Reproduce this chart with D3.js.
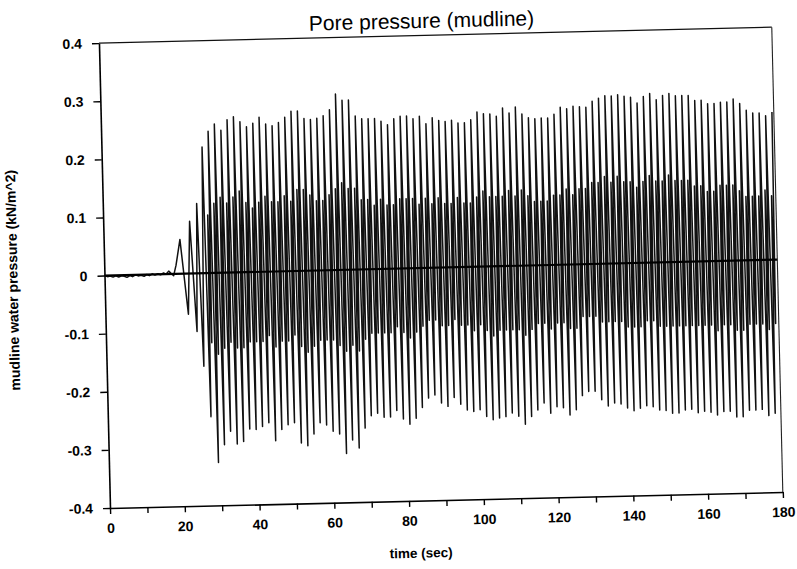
<!DOCTYPE html>
<html><head><meta charset="utf-8">
<script src="https://cdn.jsdelivr.net/npm/d3@7"></script>
<style>body{margin:0;background:#fff}svg{display:block}</style>
</head><body>
<svg id="chart" width="797" height="569"></svg>
<script>
// ---------- data ----------
const titleText = "Pore pressure (mudline)";
const xTitle = "time (sec)";
const yTitle = "mudline water pressure (kN/m^2)";
const xTickValues = [0,10,20,30,40,50,60,70,80,90,100,110,120,130,140,150,160,170,180];
const xTickLabels = ["0","","20","","40","","60","","80","","100","","120","","140","","160","","180"];
const yTickValues = [0.4,0.3,0.2,0.1,0,-0.1,-0.2,-0.3,-0.4];
const yTickLabels = ["0.4","0.3","0.2","0.1","0","-0.1","-0.2","-0.3","-0.4"];

// quiet record before the waves arrive, then the first small cycles: [time, pressure]
const preStart = [
  [0,0.000],[0.8,-0.002],[1.5,-0.001],[2.3,-0.003],[3.0,-0.001],[3.8,-0.003],[4.6,-0.001],
  [5.3,-0.002],[6.0,-0.004],[6.8,-0.001],[7.5,-0.003],[8.3,0.000],[9.0,-0.002],[9.8,-0.001],
  [10.6,-0.003],[11.3,0.000],[12.0,-0.002],[12.8,0.001],[13.5,-0.001],[14.3,0.001],[15.0,-0.001],
  [15.8,0.002],[16.5,0.000],[17.2,0.005],[17.8,0.001],[18.5,-0.003],[19.2,0.015],[20.4,0.059],
  [22.2,-0.070],[23.1,0.090],[24.4,-0.100],[25.1,0.120],[26.0,-0.160]
];

// regular wave cycles: first crest time and crest spacing (s)
const cycleStart = 26.9;
const cyclePeriod = 1.7146;
// main crest of each cycle (kN/m^2)
const peaks = [
  0.217,0.244,0.256,0.245,0.263,0.268,0.259,0.250,0.256,0.266,0.254,0.251,0.256,0.265,
  0.275,0.275,0.262,0.260,0.262,0.266,0.276,0.303,0.292,0.292,0.264,0.259,0.259,0.259,
  0.254,0.248,0.258,0.262,0.262,0.257,0.261,0.248,0.258,0.253,0.251,0.253,0.248,0.248,
  0.253,0.266,0.263,0.262,0.258,0.272,0.263,0.273,0.261,0.254,0.252,0.253,0.253,0.259,
  0.271,0.268,0.272,
  0.271,0.270,0.280,0.285,0.289,0.288,0.290,0.287,0.285,0.275,0.286,0.291,0.280,0.287,
  0.290,0.286,0.286,0.286,0.277,0.277,0.271,0.271,0.273,0.273,0.278,0.270,0.258,0.253,
  0.253,0.248,0.254
];
// main trough following each crest (kN/m^2)
const troughs = [
  -0.247,-0.326,-0.296,-0.273,-0.295,-0.291,-0.270,-0.271,-0.266,-0.260,-0.291,-0.272,
  -0.264,-0.261,-0.296,-0.301,-0.281,-0.262,-0.266,-0.277,-0.282,-0.316,-0.293,-0.307,
  -0.273,-0.252,-0.248,
  -0.255,-0.255,-0.244,-0.259,-0.268,-0.258,-0.240,-0.224,-0.219,-0.233,-0.239,-0.224,
  -0.236,-0.246,-0.249,-0.246,-0.258,-0.264,-0.261,-0.259,-0.253,-0.259,-0.273,-0.260,
  -0.249,-0.237,-0.255,-0.244,-0.246,-0.259,-0.250,
  -0.226,-0.219,-0.219,-0.234,-0.245,-0.240,-0.242,-0.249,-0.254,-0.250,-0.246,-0.248,
  -0.254,-0.255,-0.260,-0.260,-0.255,-0.254,-0.260,-0.258,-0.260,-0.265,-0.259,-0.259,
  -0.269,-0.269,-0.258,-0.258,-0.257,-0.268,-0.264
];
// small secondary crest inside each cycle (grey hatching, estimated)
const subPeaks = [
  0.10,0.12,0.13,0.12,0.13,0.14,0.12,0.11,0.12,0.13,0.12,0.12,0.13,0.12,
  0.14,0.14,0.13,0.12,0.12,0.13,0.14,0.15,0.14,0.14,0.12,0.12,0.11,
  0.12,0.11,0.11,0.12,0.12,0.12,0.11,0.12,0.11,0.12,0.11,0.11,0.12,0.11,
  0.11,0.12,0.13,0.12,0.12,0.12,0.13,0.12,0.13,0.12,0.11,0.11,0.11,0.12,
  0.12,0.13,0.12,
  0.13,0.13,0.14,0.14,0.15,0.14,0.15,0.14,0.14,0.13,0.14,0.15,0.14,0.14,
  0.15,0.14,0.14,0.14,0.13,0.13,0.12,0.12,0.13,0.13,0.13,0.12,0.11,0.11,
  0.11,0.12,0.11
];
// small secondary trough inside each cycle (estimated)
const subTroughs = [
  -0.12,-0.14,-0.13,-0.12,-0.13,-0.13,-0.12,-0.12,-0.12,-0.11,-0.13,-0.12,-0.12,-0.11,
  -0.13,-0.14,-0.13,-0.12,-0.12,-0.12,-0.13,-0.14,-0.13,-0.14,-0.12,-0.11,-0.11,
  -0.11,-0.11,-0.10,-0.11,-0.12,-0.11,-0.10,-0.09,-0.09,-0.10,-0.10,-0.09,-0.10,-0.10,
  -0.11,-0.10,-0.11,-0.12,-0.11,-0.11,-0.11,-0.11,-0.12,-0.11,-0.10,-0.10,-0.11,-0.10,
  -0.10,-0.11,-0.11,
  -0.09,-0.09,-0.09,-0.10,-0.10,-0.10,-0.10,-0.11,-0.11,-0.11,-0.10,-0.10,-0.11,-0.11,
  -0.11,-0.11,-0.11,-0.11,-0.11,-0.11,-0.11,-0.12,-0.11,-0.11,-0.12,-0.12,-0.11,-0.11,
  -0.11,-0.12,-0.11
];
const zeroLine = [[0,0],[180,0]];

// ---------- build ----------
const series = preStart.slice();
peaks.forEach((p, i) => {
  const t = cycleStart + i * cyclePeriod;
  series.push([t, p]);
  if (i < troughs.length) {
    series.push([t + 0.40 * cyclePeriod, troughs[i]]);
    series.push([t + 0.63 * cyclePeriod, subPeaks[i]]);
    series.push([t + 0.80 * cyclePeriod, subTroughs[i]]);
  }
});

const FONT = "'Liberation Sans', Arial, Helvetica, sans-serif";
const M = { l: 110, r: 783, t: 43, b: 508 };
const svg = d3.select("#chart");
const g = svg.append("g").attr("transform", `rotate(-1.36, ${M.l}, ${M.b})`);

const x = d3.scaleLinear().domain([0, 180]).range([M.l, M.r]);
const y = d3.scaleLinear().domain([-0.4, 0.4]).range([M.b, M.t]);

const line = d3.line().x(d => x(d[0])).y(d => y(d[1]));

// signal
g.append("path").datum(series)
  .attr("d", line).attr("fill", "none")
  .attr("stroke", "#111").attr("stroke-width", 1.5)
  .attr("stroke-linejoin", "round");

// zero line
g.append("path").datum(zeroLine)
  .attr("d", line).attr("fill", "none")
  .attr("stroke", "#000").attr("stroke-width", 2.2);

// frame top & right
g.append("line").attr("x1", M.l).attr("x2", M.r).attr("y1", M.t).attr("y2", M.t)
  .attr("stroke", "#111").attr("stroke-width", 1.3);
g.append("line").attr("x1", M.r).attr("x2", M.r).attr("y1", M.t).attr("y2", M.b)
  .attr("stroke", "#222").attr("stroke-width", 1.1);

// axes
const xAxis = d3.axisBottom(x).tickValues(xTickValues)
  .tickFormat((d, i) => xTickLabels[i]).tickSize(6).tickSizeOuter(0).tickPadding(9);
const gx = g.append("g").attr("transform", `translate(0,${M.b})`).call(xAxis);
const yAxis = d3.axisLeft(y).tickValues(yTickValues)
  .tickFormat((d, i) => yTickLabels[i]).tickSize(7).tickSizeOuter(0).tickPadding(10);
const gy = g.append("g").attr("transform", `translate(${M.l},0)`).call(yAxis);

[gx, gy].forEach(a => {
  a.select(".domain").attr("stroke", "#000").attr("stroke-width", 1.6);
  a.selectAll(".tick line").attr("stroke", "#000").attr("stroke-width", 1.4);
  a.selectAll(".tick text").attr("fill", "#000")
    .style("font-family", FONT).style("font-size", "14px").style("font-weight", "bold");
});

// titles
g.append("text").attr("x", 433).attr("y", 35.5).attr("text-anchor", "middle")
  .style("font-family", FONT).style("font-size", "21px").attr("fill", "#000")
  .text(titleText);
g.append("text").attr("x", 420).attr("y", 565).attr("text-anchor", "middle")
  .style("font-family", FONT).style("font-size", "13.5px").style("font-weight", "bold")
  .attr("fill", "#000").text(xTitle);
g.append("text").attr("transform", "translate(23,278) rotate(-90)").attr("text-anchor", "middle")
  .style("font-family", FONT).style("font-size", "14px").style("font-weight", "bold")
  .attr("fill", "#000").text(yTitle);
</script>
</body></html>
